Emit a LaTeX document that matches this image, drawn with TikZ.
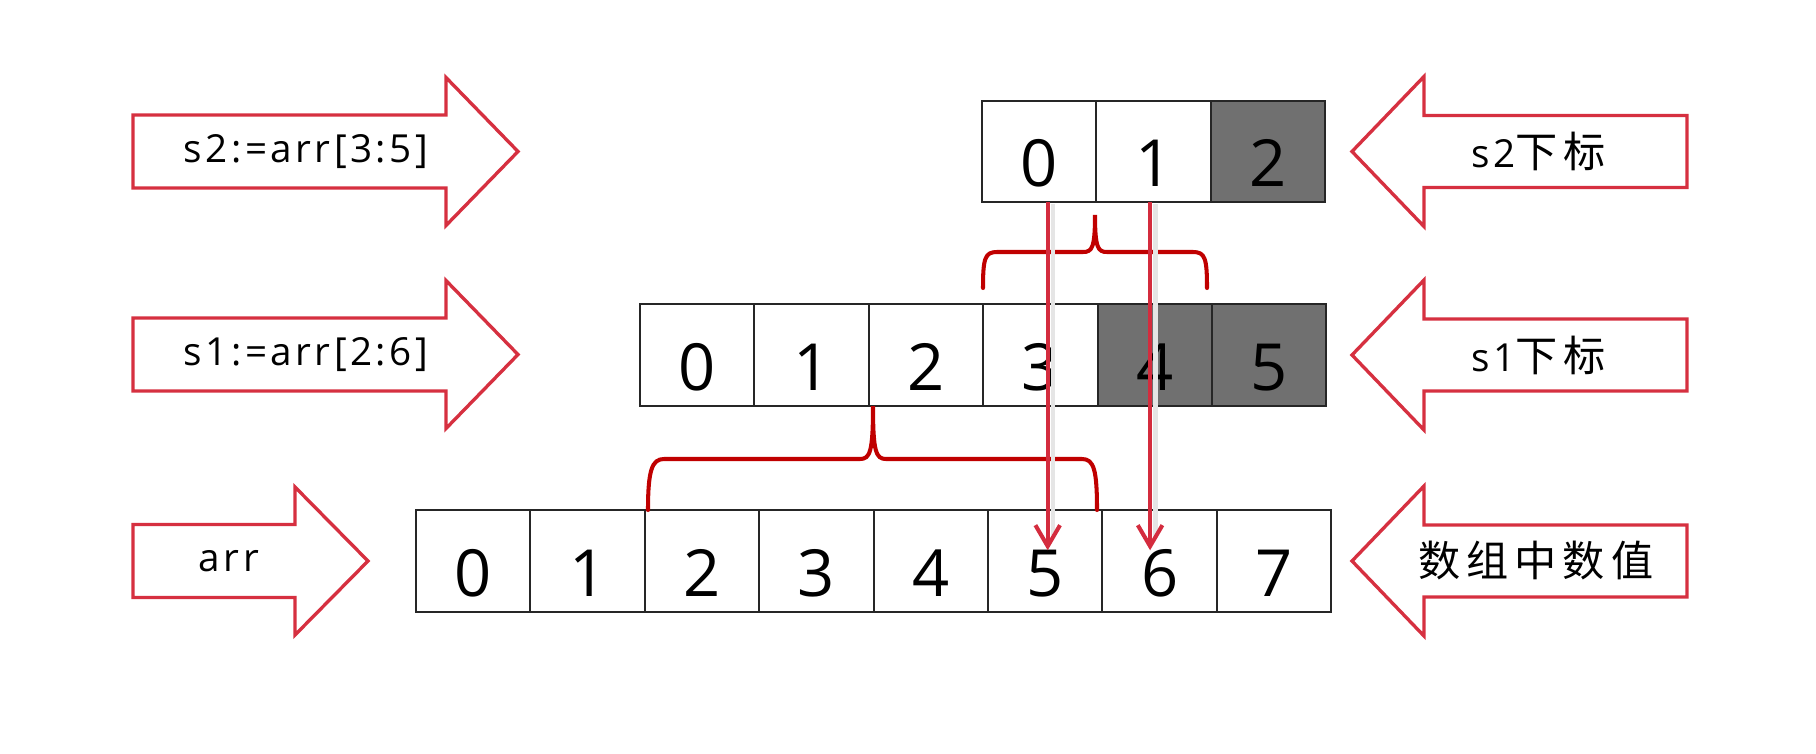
\documentclass[tikz,border=0pt]{standalone}
\usepackage{fontspec}
\setmainfont{Open Sans}
\newfontfamily\labelfont[LetterSpace=9]{Open Sans}
\newfontfamily\cjkfont[LetterSpace=14]{Noto Sans CJK SC}
\usetikzlibrary{arrows.meta,calc}

\definecolor{arrowred}{RGB}{214,48,64}
\definecolor{bracered}{RGB}{192,0,0}
\definecolor{ptrred}{RGB}{212,44,62}
\definecolor{cellgray}{RGB}{112,112,112}

\begin{document}
\begin{tikzpicture}[x=0.02cm, y=-0.02cm,
  cell/.style={draw=black!85, line width=1.1pt, fill=white, minimum width=2.288cm, minimum height=2.03cm, inner sep=0pt, outer sep=0pt, text height=40pt, text depth=0pt, font=\fontsize{37}{44}\selectfont},
  dark/.style={cell, fill=cellgray},
  fat/.style={draw=arrowred, line width=1.9pt, fill=white, line join=miter},
  lbl/.style={inner sep=0pt, font=\labelfont\fontsize{22}{26}\selectfont},
  cjk/.style={lbl, font=\cjkfont\fontsize{24}{28}\selectfont},
  brace/.style={draw=bracered, line width=2.3pt, line cap=round},
  ptr/.style={draw=ptrred, line width=2.3pt, -{Straight Barb[length=12pt, width=14pt]}},
  ptrshade/.style={draw=black!10, line width=2.6pt}]

  \useasboundingbox (0,0) rectangle (1816,754);

  % Big arrows, left side
  \foreach \cy/\hb/\tp in {151.5/446/518, 354.5/446/518, 561/295/368}
    \draw[fat] (133,\cy-36.5) -- (\hb,\cy-36.5) -- (\hb,\cy-74) -- (\tp,\cy) -- (\hb,\cy+74) -- (\hb,\cy+36.5) -- (133,\cy+36.5) -- cycle;

  % Big arrows, right side
  \foreach \cy in {151.5, 355, 561}
    \draw[fat] (1687,\cy-36) -- (1424,\cy-36) -- (1424,\cy-75) -- (1352,\cy) -- (1424,\cy+75) -- (1424,\cy+36) -- (1687,\cy+36) -- cycle;

  % Arrow texts
  \node [lbl] (lbls2) at (306,151.5) {s2:=arr[3:5]};
  \node [lbl] (lbls1) at (306,354.5) {s1:=arr[2:6]};
  \node [lbl] (lblarr) at (229,561) {arr};
  \node [lbl] (idxs2) at (1539,151.5) {s2{\cjkfont\fontsize{24}{28}\selectfont 下标}};
  \node [lbl] (idxs1) at (1539,355) {s1{\cjkfont\fontsize{24}{28}\selectfont 下标}};
  \node [cjk] (idxarr) at (1536,561) {数组中数值};

  % Row 3: arr
  \foreach \i in {0,...,7}
    \node [cell] (arr\i) at ({416+114.4*(\i+0.5)},561) {\i};

  % Row 2: s1
  \foreach \i in {0,...,3}
    \node [cell] (s1c\i) at ({640+114.4*(\i+0.5)},355) {\i};
  \foreach \i in {4,5}
    \node [dark] (s1c\i) at ({640+114.4*(\i+0.5)},355) {\i};

  % Row 1: s2
  \foreach \i in {0,1}
    \node [cell] (s2c\i) at ({982+114.4*(\i+0.5)},151.7) {\i};
  \node [dark] (s2c2) at ({982+114.4*2.5},151.7) {2};

  % Braces
  \draw[brace] (983,288) .. controls (983,258) and (985,252) .. (997,252) -- (1083,252)
    .. controls (1092,252) and (1095,248) .. (1095,215)
    .. controls (1095,248) and (1098,252) .. (1107,252) -- (1193,252)
    .. controls (1205,252) and (1207,258) .. (1207,288);
  \draw[brace] (648,510) .. controls (648,470) and (652,459) .. (664,459) -- (860,459)
    .. controls (870,459) and (873,452) .. (873,406)
    .. controls (873,452) and (876,459) .. (886,459) -- (1082,459)
    .. controls (1094,459) and (1097,470) .. (1097,510);

  % Index pointers
  \draw[ptrshade] ($(s2c0.south)+(14,2)$) -- ($(s2c0.south |- arr5.north)+(14,28)$);
  \draw[ptrshade] ($(s2c1.south)+(2,2)$) -- ($(s2c1.south |- arr6.north)+(2,28)$);
  \draw[ptr] ($(s2c0.south)+(8.5,0)$) -- ($(s2c0.south |- arr5.north)+(8.5,40)$);
  \draw[ptr] ($(s2c1.south)+(-3.5,0)$) -- ($(s2c1.south |- arr6.north)+(-3.5,40)$);
\end{tikzpicture}
\end{document}
